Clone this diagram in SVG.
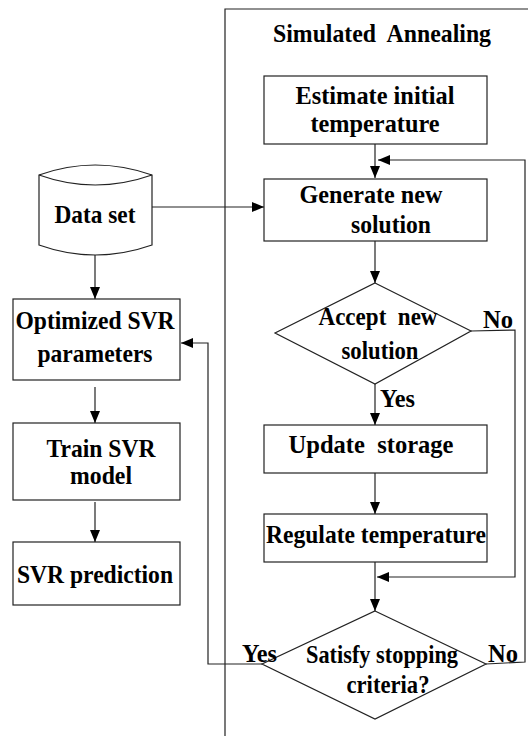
<svg xmlns="http://www.w3.org/2000/svg" width="528" height="736" viewBox="0 0 528 736">
<style>
.t{font-family:"Liberation Serif","Times New Roman",serif;font-weight:bold;font-size:26px;fill:#000;text-anchor:middle;white-space:pre}
.l{text-anchor:start}
.b{fill:#fff;stroke:#222;stroke-width:1.2}
.c{fill:none;stroke:#222;stroke-width:1.2}
</style>
<defs>
<marker id="a" markerWidth="12" markerHeight="10" refX="12" refY="5" orient="auto" markerUnits="userSpaceOnUse">
<path d="M0,0 L12,5 L0,10 z" fill="#000"/>
</marker>
</defs>
<rect width="528" height="736" fill="#fff"/>
<g id="frame">
<path class="c" d="M528,9 L225,9 L225,736"/>
<text class="t" x="382" y="42" xml:space="preserve" textLength="218" lengthAdjust="spacingAndGlyphs">Simulated  Annealing</text>
</g>
<g id="connectors">
<path class="c" d="M375,144 L375,178" marker-end="url(#a)"/>
<path class="c" d="M486,664 L525,662 L525,160 L378,160" marker-end="url(#a)"/>
<path class="c" d="M152,207 L264,207" marker-end="url(#a)"/>
<path class="c" d="M375,241 L375,283" marker-end="url(#a)"/>
<path class="c" d="M471,331 L515,330 L515,577 L377,577" marker-end="url(#a)"/>
<path class="c" d="M375,384 L375,425" marker-end="url(#a)"/>
<path class="c" d="M375,473 L375,514" marker-end="url(#a)"/>
<path class="c" d="M375,562 L375,611" marker-end="url(#a)"/>
<path class="c" d="M262,664 L208,664 L208,343 L181,343" marker-end="url(#a)"/>
<path class="c" d="M95,255 L95,299" marker-end="url(#a)"/>
<path class="c" d="M95,387 L95,423" marker-end="url(#a)"/>
<path class="c" d="M95,502 L95,542" marker-end="url(#a)"/>
</g>
<g id="estimate">
<rect class="b" x="264" y="76" width="223" height="68"/>
<text class="t" x="375" y="104" textLength="159" lengthAdjust="spacingAndGlyphs">Estimate initial</text>
<text class="t" x="375" y="132" textLength="129" lengthAdjust="spacingAndGlyphs">temperature</text>
</g>
<g id="generate">
<rect class="b" x="264" y="179" width="223" height="62"/>
<text class="t" x="371" y="203" textLength="143" lengthAdjust="spacingAndGlyphs">Generate new</text>
<text class="t" x="391" y="233" textLength="80" lengthAdjust="spacingAndGlyphs">solution</text>
</g>
<g id="dataset">
<path class="b" d="M39,175 Q95,155 152,175 L152,245 Q95,265 39,245 Z"/>
<path class="c" d="M39,175 Q95,195 152,175"/>
<text class="t" x="95" y="223" textLength="81" lengthAdjust="spacingAndGlyphs">Data set</text>
</g>
<g id="accept">
<path class="b" d="M375,283 L471,331 L375,384 L275,333 Z"/>
<text class="t" x="378" y="325" xml:space="preserve" textLength="119" lengthAdjust="spacingAndGlyphs">Accept  new</text>
<text class="t" x="380" y="359" textLength="77" lengthAdjust="spacingAndGlyphs">solution</text>
<text class="t l" x="483" y="328" textLength="30" lengthAdjust="spacingAndGlyphs">No</text>
<text class="t l" x="380" y="407" textLength="35" lengthAdjust="spacingAndGlyphs">Yes</text>
</g>
<g id="update">
<rect class="b" x="264" y="425" width="223" height="48"/>
<text class="t" x="371" y="453" xml:space="preserve" textLength="165" lengthAdjust="spacingAndGlyphs">Update  storage</text>
</g>
<g id="regulate">
<rect class="b" x="264" y="514" width="223" height="48"/>
<text class="t" x="376" y="543" textLength="220" lengthAdjust="spacingAndGlyphs">Regulate temperature</text>
</g>
<g id="satisfy">
<path class="b" d="M375,611 L486,664 L375,719 L262,664 Z"/>
<text class="t" x="382" y="663" textLength="152" lengthAdjust="spacingAndGlyphs">Satisfy stopping</text>
<text class="t" x="388" y="693" textLength="83" lengthAdjust="spacingAndGlyphs">criteria?</text>
<text class="t l" x="242" y="662" textLength="35" lengthAdjust="spacingAndGlyphs">Yes</text>
<text class="t l" x="488" y="662" textLength="30" lengthAdjust="spacingAndGlyphs">No</text>
</g>
<g id="optimized">
<rect class="b" x="13" y="299" width="167" height="81"/>
<text class="t" x="95" y="329" textLength="159" lengthAdjust="spacingAndGlyphs">Optimized SVR</text>
<text class="t" x="95" y="362" textLength="115" lengthAdjust="spacingAndGlyphs">parameters</text>
</g>
<g id="train">
<rect class="b" x="13" y="423" width="167" height="77"/>
<text class="t" x="101" y="457" textLength="109" lengthAdjust="spacingAndGlyphs">Train SVR</text>
<text class="t" x="101" y="484" textLength="62" lengthAdjust="spacingAndGlyphs">model</text>
</g>
<g id="prediction">
<rect class="b" x="13" y="542" width="167" height="63"/>
<text class="t" x="95" y="583" textLength="156" lengthAdjust="spacingAndGlyphs">SVR prediction</text>
</g>
</svg>
